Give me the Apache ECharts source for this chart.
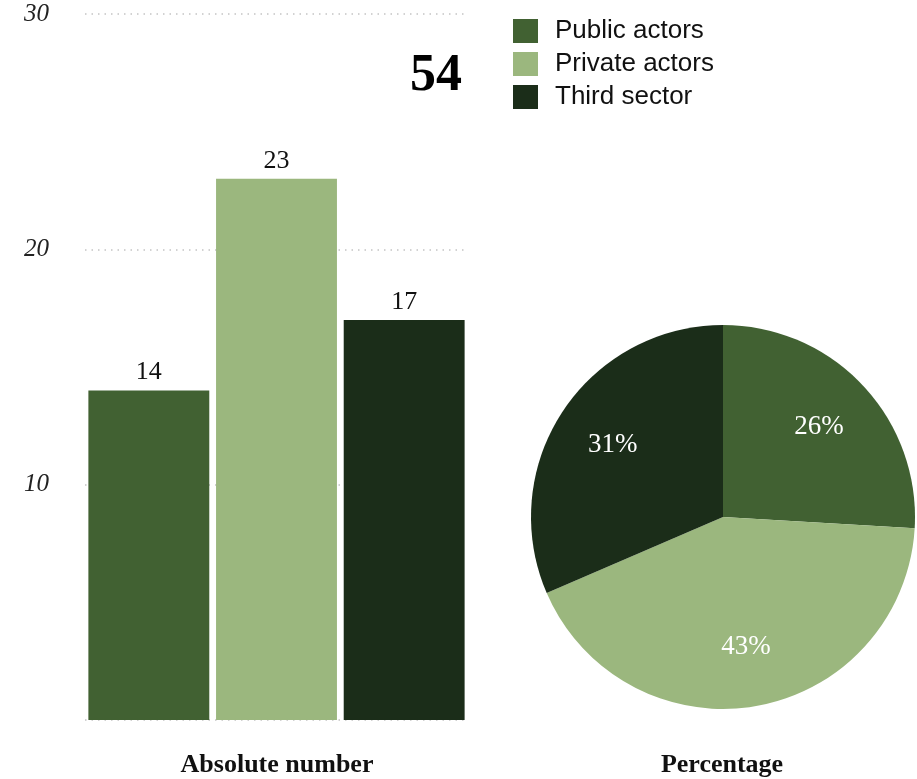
<!DOCTYPE html>
<html>
<head>
<meta charset="utf-8">
<script src="https://cdn.jsdelivr.net/npm/echarts@6/dist/echarts.min.js"></script>
<style>html,body{margin:0;padding:0;background:#fff}#c{width:917px;height:779px}</style>
</head>
<body>
<div id="c"></div>
<script>
const categories = ['Public actors', 'Private actors', 'Third sector'];
const counts = [14, 23, 17];
const colors = ['#416132', '#9BB77E', '#1B2D19'];
const yTicks = [0, 10, 20, 30];
const totalLabel = '54';
const barTitle = 'Absolute number';
const pieTitle = 'Percentage';

const total = counts.reduce((a, b) => a + b, 0);
const pieData = categories.map((n, i) => ({ name: n, value: counts[i], itemStyle: { color: colors[i] } }));
const overlayData = categories.map((n, i) => ({ name: n, value: counts[i] }));

const chart = echarts.init(document.getElementById('c'), null, { renderer: 'canvas' });
chart.setOption({
  animation: false,
  backgroundColor: '#ffffff',
  grid: { left: 85, right: 917 - 468, top: 14, bottom: 59, containLabel: false },
  xAxis: {
    type: 'category',
    data: categories,
    axisLine: { show: false },
    axisTick: { show: false },
    axisLabel: { show: false }
  },
  yAxis: {
    type: 'value',
    min: yTicks[0],
    max: yTicks[yTicks.length - 1],
    interval: 10,
    axisLine: { show: false },
    axisTick: { show: false },
    axisLabel: {
      showMinLabel: false,
      margin: 36,
      fontFamily: 'Liberation Serif',
      fontStyle: 'italic',
      fontSize: 25,
      color: '#222'
    },
    splitLine: { show: true, lineStyle: { color: '#c4c4c4', width: 1.5, type: [1.5, 5] } }
  },
  legend: {
    orient: 'vertical',
    left: 513,
    top: 18,
    padding: 0,
    icon: 'rect',
    itemWidth: 25,
    itemHeight: 24,
    itemGap: 7,
    data: categories,
    textStyle: {
      fontFamily: 'Liberation Sans',
      fontSize: 26,
      color: '#111',
      padding: [0, 0, 0, 12],
      lineHeight: 24
    },
    selectedMode: false
  },
  series: [
    {
      type: 'bar',
      barCategoryGap: '5.3%',
      data: counts.map((v, i) => ({ value: v, itemStyle: { color: colors[i] } })),
      label: {
        show: true,
        position: 'top',
        distance: 5,
        fontFamily: 'Liberation Serif',
        fontSize: 26,
        color: '#111'
      }
    },
    {
      type: 'pie',
      center: [723, 517],
      radius: [0, 192],
      startAngle: 90,
      clockwise: true,
      label: { show: false },
      labelLine: { show: false },
      data: pieData,
      silent: true
    },
    {
      type: 'pie',
      center: [723, 517],
      radius: [66, 192],
      startAngle: 90,
      clockwise: true,
      silent: true,
      itemStyle: { color: 'rgba(0,0,0,0)' },
      label: {
        show: true,
        position: 'inside',
        fontFamily: 'Liberation Serif',
        fontSize: 27,
        color: '#ffffff',
        formatter: p => Math.round(p.value / total * 100) + '%'
      },
      labelLine: { show: false },
      data: overlayData
    }
  ],
  graphic: [
    {
      type: 'text', x: 436, y: 77,
      style: { text: totalLabel, font: 'bold 52px "Liberation Serif"', fill: '#000', textAlign: 'center', textVerticalAlign: 'middle' }
    },
    {
      type: 'text', x: 277, y: 765,
      style: { text: barTitle, font: 'bold 26px "Liberation Serif"', fill: '#111', textAlign: 'center', textVerticalAlign: 'middle' }
    },
    {
      type: 'text', x: 722, y: 765,
      style: { text: pieTitle, font: 'bold 26px "Liberation Serif"', fill: '#111', textAlign: 'center', textVerticalAlign: 'middle' }
    }
  ]
});
</script>
</body>
</html>
